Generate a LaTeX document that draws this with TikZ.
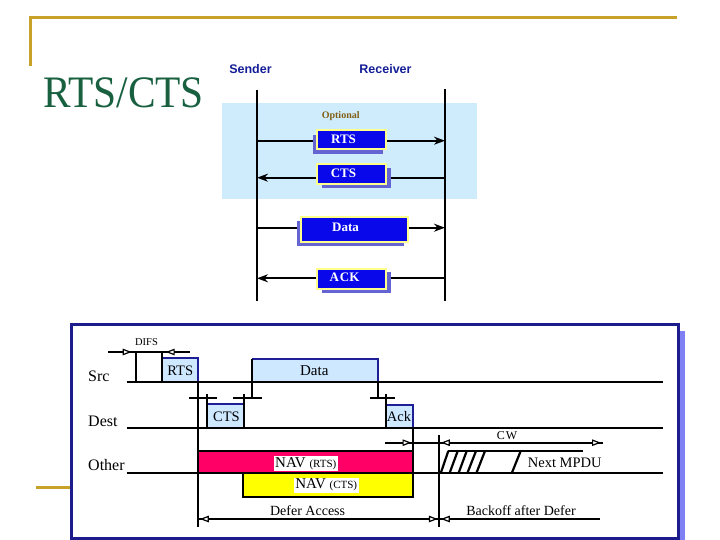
\documentclass[tikz,border=0pt]{standalone}
\usepackage{fontspec}
\setmainfont{Liberation Serif}
\newfontfamily\arialfam{Liberation Sans}
\usetikzlibrary{arrows.meta}
\definecolor{gold}{RGB}{200,162,40}
\definecolor{titlegreen}{RGB}{24,96,64}
\definecolor{sendblue}{RGB}{20,30,150}
\definecolor{optbrown}{RGB}{130,95,20}
\definecolor{panelsky}{RGB}{206,236,252}
\definecolor{msgblue}{RGB}{8,8,235}
\definecolor{msgborder}{RGB}{255,255,140}
\definecolor{msgshade}{RGB}{100,100,210}
\definecolor{framenavy}{RGB}{28,28,140}
\definecolor{frameshade}{RGB}{128,128,245}
\definecolor{slotsky}{RGB}{206,232,255}
\definecolor{slotedge}{RGB}{30,30,150}
\definecolor{navpink}{RGB}{255,0,102}
\definecolor{navyellow}{RGB}{255,255,0}
\newcommand\myfs[1]{\fontsize{#1}{#1}\selectfont}
\begin{document}
\begin{tikzpicture}[x=1pt,y=-1pt,
  goldline/.style={draw=gold,line width=3pt},
  lifeline/.style={line width=2.4pt,black},
  msgarrow/.style={line width=2.2pt,-{Stealth[length=11pt,width=8pt]}},
  msgbox/.style={draw=msgborder,line width=2.2pt,fill=msgblue,inner sep=0pt},
  msgtext/.style={text=white,font=\bfseries\myfs{13},inner sep=0pt},
  blk/.style={line width=2.2pt},
  edgeblue/.style={draw=slotedge,line width=2.2pt},
  slot/.style={fill=slotsky},
  opentip/.style={line width=2.2pt,-{Triangle[length=9pt,width=6.5pt,line width=1.2pt,fill=white,sep=#1]}},
  opentip/.default=1.5pt,
  lbl/.style={font=\myfs{16},inner sep=0pt,anchor=west},
  boxlbl/.style={font=\myfs{14.5},inner sep=0pt},
  navbox/.style={draw=black,line width=1.8pt},
  navlbl/.style={fill=white,inner sep=1.5pt,font=\myfs{15}},
  dimlbl/.style={font=\myfs{14},inner sep=0pt},
]
\useasboundingbox (0,0) rectangle (720,540);

% ---------- slide decoration ----------
\draw[goldline] (30,17.5) -- (677,17.5);
\draw[goldline] (30,16) -- (30,66.5);
\node[text=titlegreen,font=\myfs{45},inner sep=0pt,anchor=base,xscale=0.92] (title) at (123.5,108) {RTS/CTS};

% ---------- upper sequence ----------
\node[text=sendblue,font=\arialfam\bfseries\myfs{12.5},inner sep=0pt] (sender) at (250.5,69.5) {Sender};
\node[text=sendblue,font=\arialfam\bfseries\myfs{12.5},inner sep=0pt] (receiver) at (385.5,69.5) {Receiver};
\fill[panelsky] (222,103) rectangle (477,199);
\coordinate (stop) at (257,90.5);
\coordinate (sbot) at (257,301);
\coordinate (rtop) at (445,89);
\coordinate (rbot) at (445,301);
\draw[lifeline] (stop) -- (sbot);
\draw[lifeline] (rtop) -- (rbot);
\node[text=optbrown,font=\bfseries\myfs{10},inner sep=0pt] (optional) at (340.7,116.5) {Optional};

\coordinate (s1) at (257,140.7); \coordinate (r1) at (445,140.7);
\coordinate (s2) at (257,177.7); \coordinate (r2) at (445,177.7);
\coordinate (s3) at (257,227.7); \coordinate (r3) at (445,227.7);
\coordinate (s4) at (257,278.3); \coordinate (r4) at (445,278.3);
\draw[msgarrow] (s1) -- (r1);
\draw[msgarrow] (r2) -- (s2);
\draw[msgarrow] (s3) -- (r3);
\draw[msgarrow] (r4) -- (s4);

\fill[msgshade] (312.7,135) rectangle (382.7,154);
\fill[msgshade] (321.7,168.3) rectangle (390.7,188.3);
\fill[msgshade] (297,220.7) rectangle (403.7,246.3);
\fill[msgshade] (322,272.4) rectangle (390.7,292.7);
\node[msgbox,minimum width=69pt,minimum height=19.3pt] (rtsbox) at (351.2,139.7) {};
\node[msgbox,minimum width=69pt,minimum height=20pt] (ctsbox) at (351.2,174.3) {};
\node[msgbox,minimum width=106.7pt,minimum height=25.6pt] (databox) at (354.3,229.5) {};
\node[msgbox,minimum width=68.7pt,minimum height=20.3pt] (ackbox) at (351.6,279.2) {};
\node[msgtext] (rtstxt) at (343.5,139.3) {RTS};
\node[msgtext] (ctstxt) at (343.5,173.3) {CTS};
\node[msgtext] (datatxt) at (345.5,227.8) {Data};
\node[msgtext] (acktxt) at (344.5,277.3) {A\kern1pt CK};

% ---------- lower timing panel ----------
\draw[goldline] (36,487) -- (72,487);
\fill[frameshade] (678,331) rectangle (684.5,540);
\draw[draw=framenavy,line width=3pt,fill=white] (71.5,324.5) rectangle (678,538.5);

% DIFS
\node[font=\myfs{10.5},inner sep=0pt] (difs) at (146.5,342.5) {DIFS};
\draw[blk] (108,352) -- (190,352);
\draw[opentip=4pt] (112,352) -- (135.7,352);
\draw[opentip=4pt] (186,352) -- (161.7,352);

% slot fills
\fill[slot] (161.7,358.3) rectangle (198.3,382.3);
\fill[slot] (252.3,359) rectangle (378.3,382.3);
\fill[slot] (206.7,404) rectangle (244.3,427.7);
\fill[slot] (385.7,405) rectangle (413.3,427.7);
\draw[edgeblue] (161.7,358.3) -- (198.3,358.3) -- (198.3,382.3);
\draw[edgeblue] (252.3,359) -- (378.3,359) -- (378.3,382.3);
\draw[edgeblue] (206.7,404) -- (244.3,404);
\draw[edgeblue] (385.7,405) -- (413.3,405) -- (413.3,427.7);

% NAV boxes
\draw[navbox,fill=navpink] (198.3,451) rectangle (412.7,473.3);
\draw[navbox,fill=navyellow] (242.7,473.3) rectangle (412.7,496.7);

% station lines
\draw[blk] (126.7,382.3) -- (663.3,382.3);
\draw[blk] (126.7,427.7) -- (663.3,427.7);
\draw[blk] (126.7,473.3) -- (198.3,473.3);
\draw[blk] (412.7,473.3) -- (663.3,473.3);

% verticals
\draw[blk] (135.7,352) -- (135.7,382.3);
\draw[blk] (161.7,352) -- (161.7,382.3);
\draw[blk] (198.3,382.3) -- (198.3,527.3);
\draw[blk] (206.7,394) -- (206.7,427.7);
\draw[blk] (244.3,394) -- (244.3,427.7);
\draw[blk] (252.3,359) -- (252.3,398.5);
\draw[blk] (378.3,382.3) -- (378.3,398.5);
\draw[blk] (385.7,394) -- (385.7,427.7);
\draw[blk] (413,427.7) -- (413,451);
\draw[blk] (439.3,435) -- (439.3,527.3);
% SIFS ticks
\draw[blk] (189.3,397.7) -- (216.7,397.7);
\draw[blk] (233.3,397.7) -- (261.7,397.7);
\draw[blk] (370,397.7) -- (395,397.7);

% CW
\draw[blk] (385,442.7) -- (603,442.7);
\draw[opentip] (395,442.7) -- (413,442.7);
\draw[opentip] (457,442.7) -- (439.3,442.7);
\draw[opentip=1pt] (583,442.7) -- (602,442.7);
\node[font=\myfs{12},inner sep=0pt] (cw) at (507,436) {C\kern1pt W};

% backoff slots
\draw[blk] (448.3,451) -- (583.3,451);
\foreach \b/\t in {440.7/448.3, 449.5/457.7, 458.5/466.7, 467.3/476, 476.3/485, 511.7/520.7}
  \draw[blk] (\b,473.3) -- (\t,451);
\node[font=\myfs{14.5},inner sep=0pt] (mpdu) at (564.7,463.3) {Next MPDU};

% Defer / Backoff
\draw[blk] (198.3,519) -- (439.3,519);
\draw[opentip] (216,519) -- (198.3,519);
\draw[opentip] (421,519) -- (439.3,519);
\draw[blk] (439.3,519) -- (600,519);
\draw[opentip] (457,519) -- (439.3,519);
\node[dimlbl] (defer) at (307.6,511) {Defer Access};
\node[dimlbl,font=\myfs{14}] (backoff) at (521,511) {Backoff after Defer};

% labels
\node[lbl] (src) at (88,376.5) {Src};
\node[lbl] (dest) at (88,421.7) {Dest};
\node[lbl] (other) at (88,465.5) {Other};
\node[boxlbl] (rtsl) at (180.3,371) {RTS};
\node[boxlbl,font=\myfs{15}] (datal) at (314.3,371) {Data};
\node[boxlbl] (ctsl) at (226.5,416.5) {CTS};
\node[boxlbl] (ackl) at (399,417) {Ack};
\node[navlbl] (navrts) at (305.8,463.3) {NAV {\myfs{11}(RTS)}};
\node[navlbl] (navcts) at (326.2,485.2) {NAV {\myfs{11}(CTS)}};
\end{tikzpicture}
\end{document}
